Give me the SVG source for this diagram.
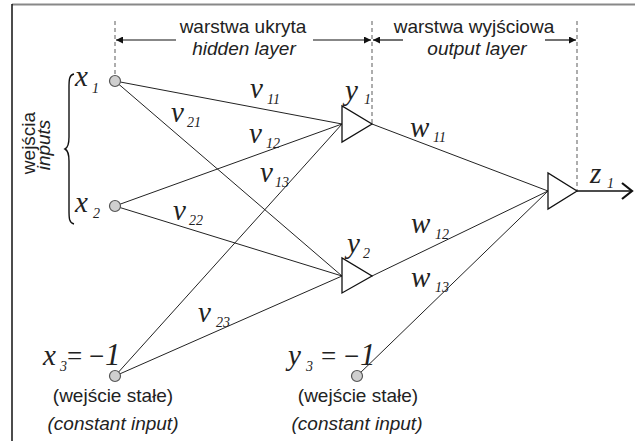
<svg xmlns="http://www.w3.org/2000/svg" width="635" height="441" viewBox="0 0 635 441">
<defs>
<marker id="ah" viewBox="0 0 10 10" refX="10" refY="5" markerWidth="9" markerHeight="7" markerUnits="userSpaceOnUse" orient="auto">
<path d="M0,0 L10,5 L0,10 Z" fill="#111"/>
</marker>
<style>
.frame{stroke:#111;stroke-width:1.5;fill:none}
.ftop{stroke:#888;stroke-width:2;fill:none}
.dash{stroke:#777;stroke-width:1.2;stroke-dasharray:4,3;fill:none}
.edge{stroke:#222;stroke-width:1;fill:none}
.br{stroke:#111;stroke-width:1.2;fill:none;marker-end:url(#ah)}
.tri{stroke:#111;stroke-width:1.3;fill:#fff}
.dot{fill:#cfcfcf;stroke:#555;stroke-width:1.2}
.sans{font-family:"Liberation Sans","Arial",sans-serif;font-size:19px;fill:#222}
.it{font-style:italic}
.math{font-family:"Liberation Serif","Times New Roman",serif;font-style:italic;fill:#222;font-size:29px}
</style>
</defs>
<g id="frame">
<line class="ftop" x1="12" y1="4.5" x2="635" y2="4.5"/>
<line class="frame" x1="12" y1="4" x2="12" y2="441"/>
</g>
<g id="layer-guides">
<line class="dash" x1="115" y1="21" x2="115" y2="74"/>
<line class="dash" x1="372" y1="21" x2="372" y2="123"/>
<line class="dash" x1="577" y1="21" x2="577" y2="190"/>
<line class="br" x1="176" y1="40" x2="116" y2="40"/>
<line class="br" x1="313" y1="40" x2="371" y2="40"/>
<line class="br" x1="403" y1="40" x2="373" y2="40"/>
<line class="br" x1="545" y1="40" x2="576" y2="40"/>
<text class="sans" x="243" y="33" text-anchor="middle">warstwa ukryta</text>
<text class="sans it" x="244" y="55" text-anchor="middle">hidden layer</text>
<text class="sans" x="474" y="33" text-anchor="middle">warstwa wyjściowa</text>
<text class="sans it" x="477" y="55" text-anchor="middle">output layer</text>
</g>
<g id="inputs-label">
<path d="M74,74 C69,75 69,80 69,88 L69,137 C69,144 67,148 65,149 C67,150 69,154 69,161 L69,210 C69,218 69,223 74,224" stroke="#111" stroke-width="1.4" fill="none"/>
<text class="sans" transform="translate(35,143) rotate(-90)" text-anchor="middle">wejścia</text>
<text class="sans it" transform="translate(50,145) rotate(-90)" text-anchor="middle">inputs</text>
</g>
<g id="connectors">
<line class="edge" x1="115" y1="81" x2="342" y2="124"/>
<line class="edge" x1="115" y1="81" x2="342" y2="276"/>
<line class="edge" x1="115" y1="206" x2="342" y2="124"/>
<line class="edge" x1="115" y1="206" x2="342" y2="276"/>
<line class="edge" x1="115" y1="376" x2="342" y2="124"/>
<line class="edge" x1="115" y1="376" x2="342" y2="276"/>
<line class="edge" x1="372" y1="124" x2="548" y2="191"/>
<line class="edge" x1="372" y1="276" x2="548" y2="191"/>
<line class="edge" x1="357" y1="376" x2="548" y2="191"/>
<line x1="577" y1="191" x2="632" y2="191" stroke="#111" stroke-width="1.3"/>
<path d="M622,183 L632,191 L622,199" stroke="#111" stroke-width="2.2" fill="none"/>
</g>
<g id="weights">
<text class="math" x="250" y="98">v<tspan font-size="14" x="267" y="104">11</tspan></text>
<text class="math" x="171" y="122">v<tspan font-size="14" x="187" y="127">21</tspan></text>
<text class="math" x="249" y="143">v<tspan font-size="14" x="266" y="148">12</tspan></text>
<text class="math" x="260" y="182">v<tspan font-size="14" x="275" y="187">13</tspan></text>
<text class="math" x="173" y="220">v<tspan font-size="14" x="189" y="225">22</tspan></text>
<text class="math" x="198" y="322">v<tspan font-size="14" x="216" y="327">23</tspan></text>
<text class="math" x="410" y="137">w<tspan font-size="14" x="433" y="142">11</tspan></text>
<text class="math" x="411" y="233">w<tspan font-size="14" x="435" y="239">12</tspan></text>
<text class="math" x="411" y="287">w<tspan font-size="14" x="435" y="292">13</tspan></text>
</g>
<g id="x1">
<circle class="dot" cx="115" cy="81" r="5.5"/>
<text class="math" x="75" y="86">x<tspan font-size="14" x="92" y="93">1</tspan></text>
</g>
<g id="x2">
<circle class="dot" cx="115" cy="206" r="5.5"/>
<text class="math" x="75" y="212">x<tspan font-size="14" x="93" y="218">2</tspan></text>
</g>
<g id="x3">
<circle class="dot" cx="115" cy="376" r="5.5"/>
<text class="math" x="43" y="365">x<tspan font-size="14" x="60" y="371">3</tspan><tspan font-style="normal" font-size="27" x="67" y="365">=</tspan><tspan font-style="normal" font-size="27" x="89">−</tspan><tspan font-size="31" x="105">1</tspan></text>
<text class="sans" x="113" y="402" text-anchor="middle">(wejście stałe)</text>
<text class="sans it" x="113" y="430" text-anchor="middle">(constant input)</text>
</g>
<g id="y1">
<polygon class="tri" points="342,106 342,142 372,124"/>
<text class="math" x="345" y="100">y<tspan font-size="14" x="364" y="104">1</tspan></text>
</g>
<g id="y2">
<polygon class="tri" points="342,258 342,293 372,276"/>
<text class="math" x="347" y="253">y<tspan font-size="14" x="363" y="258">2</tspan></text>
</g>
<g id="y3">
<circle class="dot" cx="357" cy="376" r="5.5"/>
<text class="math" x="288" y="365">y<tspan font-size="14" x="306" y="371">3</tspan><tspan font-style="normal" font-size="27" x="321" y="365">=</tspan><tspan font-style="normal" font-size="27" x="344">−</tspan><tspan font-size="31" x="360">1</tspan></text>
<text class="sans" x="358" y="402" text-anchor="middle">(wejście stałe)</text>
<text class="sans it" x="357" y="430" text-anchor="middle">(constant input)</text>
</g>
<g id="z1">
<polygon class="tri" points="548,173 548,209 577,191"/>
<text class="math" x="590" y="183">z<tspan font-size="14" x="607" y="188">1</tspan></text>
</g>
</svg>
